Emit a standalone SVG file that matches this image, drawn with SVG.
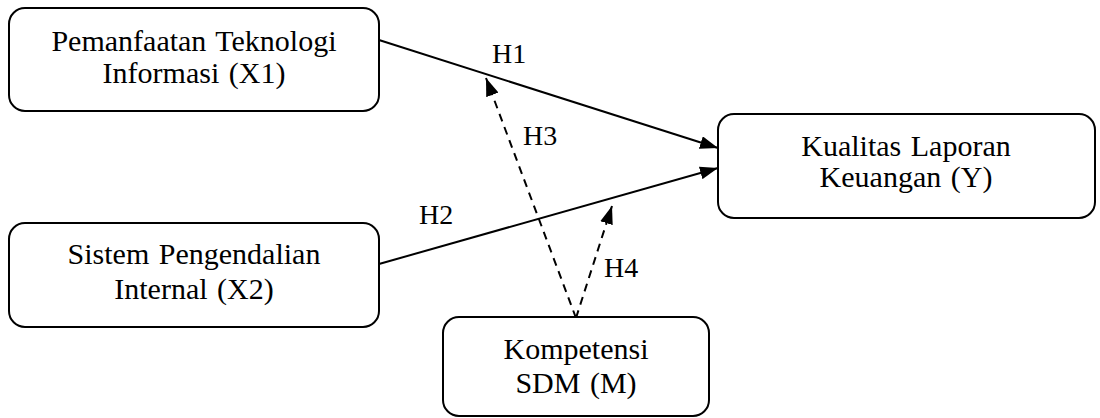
<svg xmlns="http://www.w3.org/2000/svg" width="1100" height="418" viewBox="0 0 1100 418">
<style>
.box{fill:#fff;stroke:#000;stroke-width:2}
.t{font-family:'Liberation Serif','Times New Roman',serif;font-size:30px;fill:#000;text-anchor:middle;word-spacing:2px}
.lbl{font-family:'Liberation Serif','Times New Roman',serif;font-size:28px;fill:#000}
.solid{stroke:#000;stroke-width:2;fill:none}
.dash{stroke:#000;stroke-width:2;fill:none;stroke-dasharray:8 6}
</style>
<defs>
<marker id="ah" markerUnits="userSpaceOnUse" markerWidth="18" markerHeight="13" refX="18" refY="6.5" orient="auto">
<path d="M0,0 L18,6.5 L0,13 z" fill="#000"/>
</marker>
</defs>
<rect width="1100" height="418" fill="#fff"/>
<g id="connectors">
<line class="solid" x1="379" y1="40" x2="718" y2="148" marker-end="url(#ah)"/>
<line class="solid" x1="379" y1="264" x2="718" y2="168" marker-end="url(#ah)"/>
<line class="dash" x1="576" y1="318" x2="486" y2="78" marker-end="url(#ah)"/>
<line class="dash" x1="576" y1="318" x2="612" y2="206" marker-end="url(#ah)"/>
<text class="lbl" x="492" y="63">H1</text>
<text class="lbl" x="419" y="224">H2</text>
<text class="lbl" x="523" y="145">H3</text>
<text class="lbl" x="604" y="277">H4</text>
</g>
<g id="x1">
<rect class="box" x="9" y="8" width="370" height="103" rx="16"/>
<text class="t" x="194" y="51">Pemanfaatan Teknologi</text>
<text class="t" x="194" y="83">Informasi (X1)</text>
</g>
<g id="x2">
<rect class="box" x="9" y="223" width="370" height="104" rx="16"/>
<text class="t" x="194" y="264">Sistem Pengendalian</text>
<text class="t" x="194" y="299">Internal (X2)</text>
</g>
<g id="y">
<rect class="box" x="718" y="114" width="377" height="104" rx="16"/>
<text class="t" x="906" y="156">Kualitas Laporan</text>
<text class="t" x="906" y="187">Keuangan (Y)</text>
</g>
<g id="m">
<rect class="box" x="443" y="317" width="266" height="99" rx="16"/>
<text class="t" x="576" y="359">Kompetensi</text>
<text class="t" x="576" y="393">SDM (M)</text>
</g>
</svg>
